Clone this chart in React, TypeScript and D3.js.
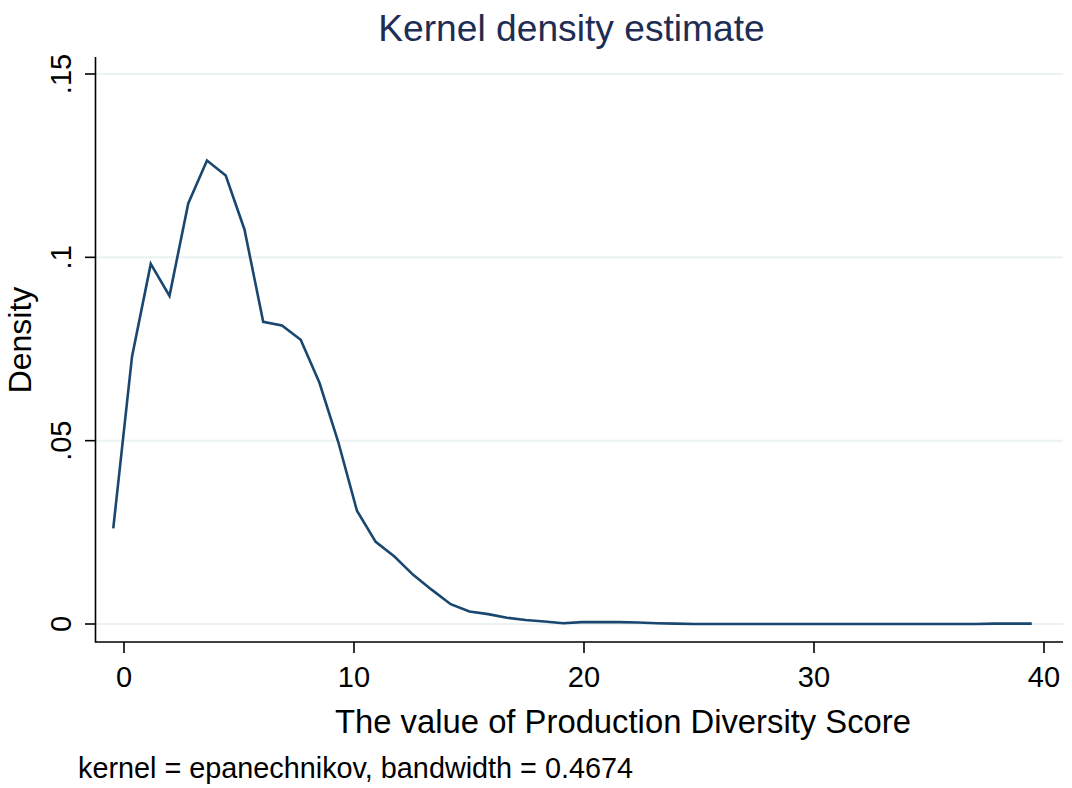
import React from "react";
import * as d3 from "d3";

const evalPoints = [
  -0.467, 0.348, 1.163, 1.978, 2.793, 3.608, 4.423, 5.238, 6.053, 6.868,
  7.683, 8.498, 9.313, 10.128, 10.943, 11.758, 12.573, 13.388, 14.203, 15.018,
  15.833, 16.648, 17.463, 18.278, 19.093, 19.908, 20.723, 21.538, 22.353, 23.168,
  23.983, 24.798, 25.613, 26.428, 27.243, 28.058, 28.873, 29.688, 30.503, 31.318,
  32.133, 32.948, 33.763, 34.578, 35.393, 36.208, 37.023, 37.838, 38.653, 39.468,
];

const densities = [
  0.0261, 0.0729, 0.0982, 0.0895, 0.1147, 0.1264, 0.1223, 0.1076, 0.0824, 0.0814,
  0.0775, 0.0658, 0.0497, 0.0309, 0.0224, 0.0184, 0.0134, 0.0093, 0.0054, 0.0034,
  0.0027, 0.0017, 0.0011, 0.0007, 0.0002, 0.0005, 0.0005, 0.0005, 0.0004, 0.0002,
  0.0001, 0.0, 0.0, 0.0, 0.0, 0.0, 0.0, 0.0, 0.0, 0.0,
  0.0, 0.0, 0.0, 0.0, 0.0, 0.0, 0.0, 0.0001, 0.0001, 0.0001,
];

const xTicks = [0, 10, 20, 30, 40];
const yTicks = [0, 0.05, 0.1, 0.15];
const yTickLabels = ["0", ".05", ".1", ".15"];

const titleText = "Kernel density estimate";
const xTitle = "The value of Production Diversity Score";
const yTitle = "Density";
const noteText = "kernel = epanechnikov, bandwidth = 0.4674";

const FONT = "'Liberation Sans', Arial, Helvetica, sans-serif";

export default function App() {
  const W = 1072;
  const H = 788;
  const axisLeft = 95.5;
  const axisRight = 1063;
  const axisBottom = 642;
  const axisTop = 57;

  const x = d3.scaleLinear().domain([0, 40]).range([124, 1044]);
  const y = d3.scaleLinear().domain([0, 0.15]).range([624, 74]);

  const pts: [number, number][] = evalPoints.map((v, i) => [v, densities[i]]);
  const line = d3
    .line<[number, number]>()
    .x((d) => x(d[0]))
    .y((d) => y(d[1]));

  return (
    <svg
      width={W}
      height={H}
      style={{ position: "absolute", left: 0, top: 0, background: "#ffffff" }}
      fontFamily={FONT}
    >
      <rect x={0} y={0} width={W} height={H} fill="#ffffff" />
      {yTicks.map((t) => (
        <line
          key={"g" + t}
          x1={axisLeft + 1}
          x2={axisRight}
          y1={y(t)}
          y2={y(t)}
          stroke="#eaf2f3"
          strokeWidth={2}
        />
      ))}
      <path
        d={line(pts) || ""}
        fill="none"
        stroke="#1a476f"
        strokeWidth={2.6}
        strokeLinejoin="miter"
      />
      <line x1={axisLeft} x2={axisLeft} y1={axisTop} y2={axisBottom + 0.75} stroke="#000" strokeWidth={1.6} />
      <line x1={axisLeft} x2={axisRight} y1={axisBottom} y2={axisBottom} stroke="#000" strokeWidth={1.6} />
      {yTicks.map((t, i) => (
        <g key={"yt" + t}>
          <line x1={85} x2={axisLeft} y1={y(t)} y2={y(t)} stroke="#000" strokeWidth={1.6} />
          <text
            transform={`translate(71,${y(t)}) rotate(-90)`}
            textAnchor="middle"
            fontSize={29}
            fill="#000"
          >
            {yTickLabels[i]}
          </text>
        </g>
      ))}
      {xTicks.map((t) => (
        <g key={"xt" + t}>
          <line x1={x(t)} x2={x(t)} y1={axisBottom} y2={653} stroke="#000" strokeWidth={1.6} />
          <text x={x(t)} y={687} textAnchor="middle" fontSize={29} fill="#000">
            {t}
          </text>
        </g>
      ))}
      <text x={571.5} y={41} textAnchor="middle" fontSize={37.2} fill="#1e2d53">
        {titleText}
      </text>
      <text x={623} y={733} textAnchor="middle" fontSize={32.8} fill="#000">
        {xTitle}
      </text>
      <text
        transform="translate(31,340) rotate(-90)"
        textAnchor="middle"
        fontSize={32}
        fill="#000"
      >
        {yTitle}
      </text>
      <text x={78} y={778} fontSize={28.8} fill="#000">
        {noteText}
      </text>
    </svg>
  );
}
